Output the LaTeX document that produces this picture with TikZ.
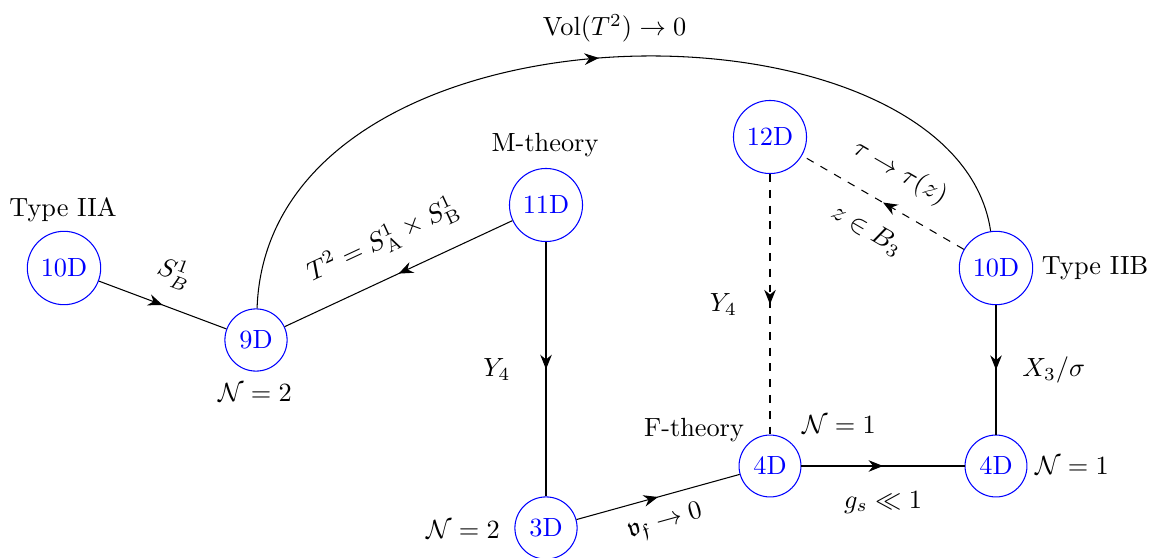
\documentclass[tikz,border=0pt]{standalone}
\usepackage{amssymb}
\usetikzlibrary{arrows.meta,decorations.markings}
\tikzset{
  dnode/.style={circle,draw=blue,text=blue},
  midarrow/.style={postaction={decorate},decoration={markings,mark=at position 0.5 with {\arrow{Stealth[length=5.5pt,width=4.4pt,inset=1.8pt]}}}},
}
\begin{document}
\begin{tikzpicture}[x=0.3802pt,y=-0.3802pt]
\useasboundingbox (0,0) rectangle (1149,558);
% nodes
\node[dnode] (A) at (64,268) {10D};
\node[dnode] (B) at (256,340) {9D};
\node[dnode] (M) at (546,205) {11D};
\node[dnode] (T) at (770,137) {12D};
\node[dnode] (IIB) at (996,268) {10D};
\node[dnode] (D3) at (546,528) {3D};
\node[dnode] (F) at (770,466) {4D};
\node[dnode] (R) at (996,466) {4D};
% labels
\node (lA) at (63,210) {Type IIA};
\node (lB) at (255,393) {$\mathcal{N}=2$};
\node (lM) at (545,145) {M-theory};
\node (lIIB) at (1095,268) {Type IIB};
\node (lD3) at (463,530) {$\mathcal{N}=2$};
\node (lF) at (694,430) {F-theory};
\node (lF2) at (839,425) {$\mathcal{N}=1$};
\node (lR) at (1072,466) {$\mathcal{N}=1$};
% edges
\draw[midarrow] (A) -- node[sloped,above=4pt] (eA) {$S^1_B$} (B);
\draw[midarrow] (M) -- node[sloped,above=5pt] (eM) {$T^2=S^1_{\rm A}\times S^1_{\rm B}$} (B);
\draw[midarrow] (B) .. controls (268,-14) and (955,-14) .. node[above=2pt] (eV) {$\mathrm{Vol}(T^2)\to 0$} (IIB);
\draw[midarrow] (M) -- node[left=10pt] (eY) {$Y_4$} (D3);
\draw[midarrow] (D3) -- node[sloped,below=2pt] (eD) {$\mathfrak{v}_\mathfrak{f}\to 0$} (F);
\draw[midarrow] (F) -- node[below=6pt] (eF) {$g_s\ll 1$} (R);
\draw[midarrow] (IIB) -- node[right=6.5pt] (eX) {$X_3/\sigma$} (R);
\draw[dashed,midarrow] (T) -- node[left=9pt] (eT) {$Y_4$} (F);
\draw[dashed,midarrow] (IIB) -- node[sloped,above=4.5pt] (eTau) {$\tau\to\tau(z)$} node[sloped,below=4.5pt] (eZ) {$z\in B_3$} (T);
\end{tikzpicture}
\end{document}
